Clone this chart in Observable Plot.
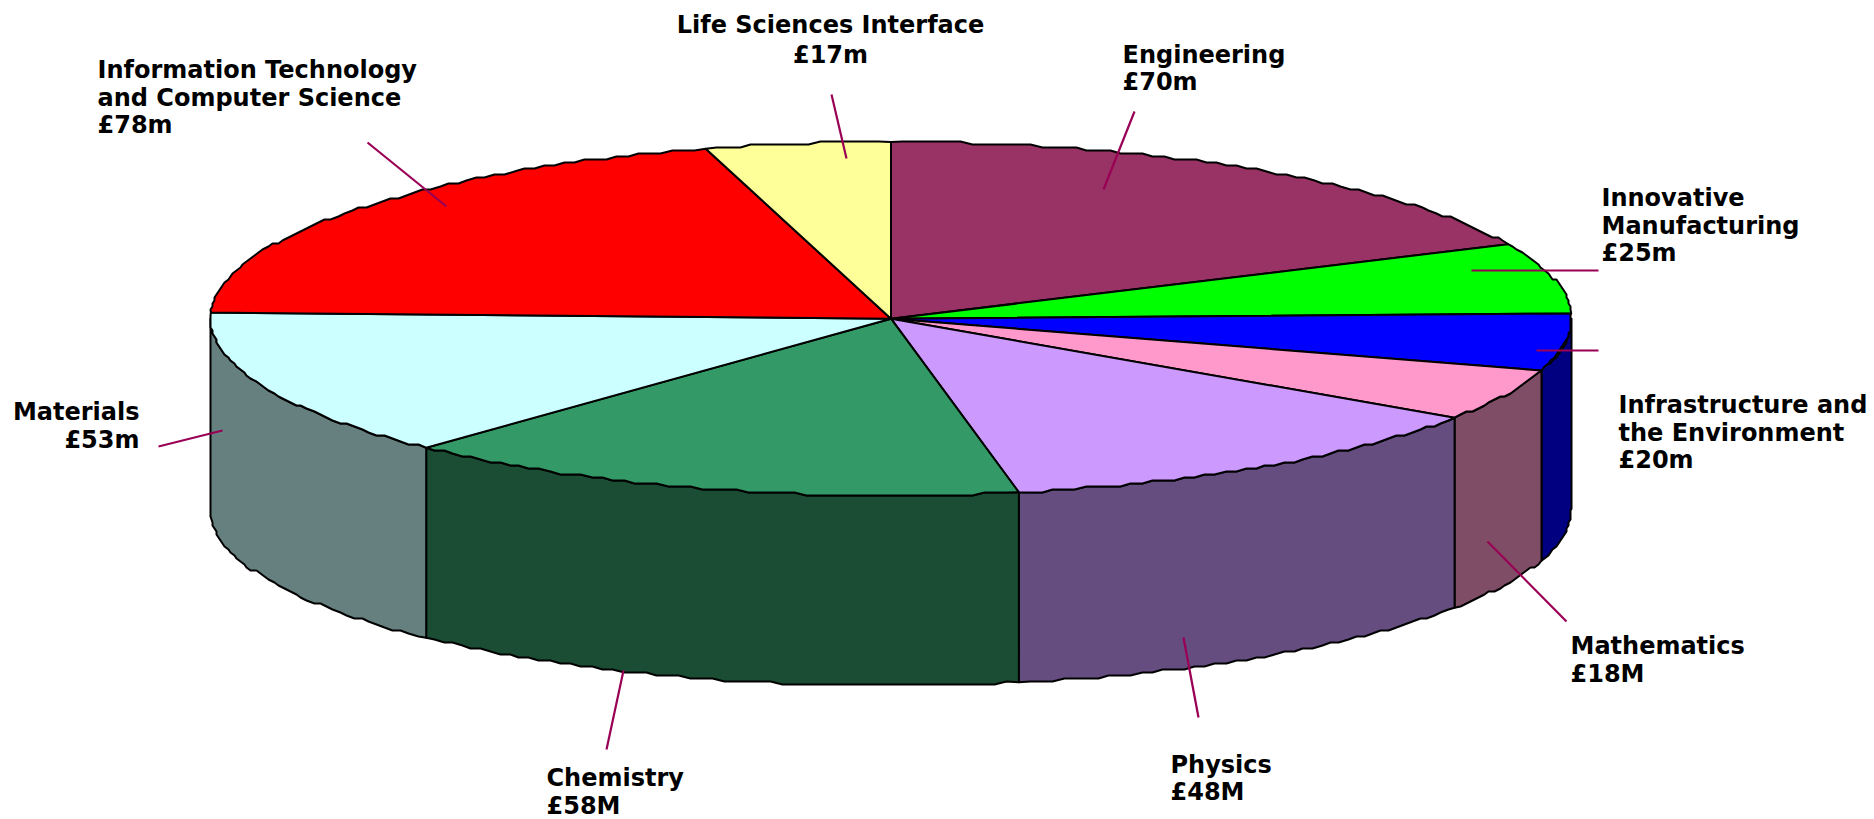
<!DOCTYPE html>
<html><head><meta charset="utf-8">
<style>html,body{margin:0;padding:0;background:#fff}svg{display:block}</style>
<script src="https://cdn.jsdelivr.net/npm/d3@7"></script>
<script src="https://cdn.jsdelivr.net/npm/@observablehq/plot@0.6"></script>
</head><body><div id="chart"></div>
<script>
// Data, clockwise from twelve o'clock
const names = ["Engineering","Innovative Manufacturing","Infrastructure and the Environment","Mathematics","Physics","Chemistry","Materials","Information Technology and Computer Science","Life Sciences Interface"];
const values = [70,25,20.2,18.3,48.5,58,52.6,77.7,17];
const labels = ["Engineering\n£70m","Innovative\nManufacturing\n£25m","Infrastructure and\nthe Environment\n£20m","Mathematics\n£18M","Physics\n£48M","Chemistry\n£58M","Materials\n£53m","Information Technology\nand Computer Science\n£78m","Life Sciences Interface\n£17m"];
const topColors = ["#993366","#00ff00","#0000ff","#ff99cc","#cc99ff","#339966","#ccffff","#ff0000","#ffff99"];
const sideColors = ["#4d1a33","#008000","#000080","#804d66","#664d80","#1a4d33","#668080","#800000","#808050"];

// Layout (kept apart from the data)
const W = 1874, H = 819;
const cx = 890.5, cy = 318.2, rx = 680.5, ry = 176.7, depth = 190;
const gridX = 2, gridY = 3;
const labelPos = [[1122,67,"start"],[1601,224.5,"start"],[1618,431.5,"start"],[1570,658.5,"start"],[1170,777,"start"],[546,790.5,"start"],[139,424.5,"end"],[97,96.5,"start"],[830,38,"middle"]];
const leaderPos = [[1134,111,1103,189],[1598,270,1471,270],[1598,350,1536,350],[1566,621,1487,541],[1198,717,1183,637],[606,749,623,670],[158,446,222,430],[367,142,446,206],[831,94,846,158]];

const total = d3.sum(values);
const cumul = d3.cumsum(values);
const ends = Array.from(cumul, v => v / total * 2 * Math.PI);
const starts = ends.map((_, i) => i ? ends[i - 1] : 0);

const snap = (v, g) => Math.round(v / g) * g;
const rim = (a, dy, exact) => {
  const x = cx + rx * Math.sin(a), y = cy - ry * Math.cos(a) + dy;
  return exact ? [x, y] : [snap(x, gridX), snap(y, gridY)];
};
const arc = (a0, a1, dy) => {
  const n = Math.max(2, Math.ceil((a1 - a0) / (Math.PI / 180)));
  const pts = [];
  for (let i = 0; i <= n; i++) pts.push(rim(a0 + (a1 - a0) * i / n, dy, i === 0 || i === n));
  return pts;
};

const topRows = [], sideRows = [];
names.forEach((name, i) => {
  const pts = [[cx, cy], ...arc(starts[i], ends[i], 0), [cx, cy]];
  pts.forEach(([x, y]) => topRows.push({key: name, x, y}));
  const a0 = Math.max(starts[i], Math.PI / 2), a1 = Math.min(ends[i], 3 * Math.PI / 2);
  if (a1 > a0) {
    const upper = arc(a0, a1, 0), lower = arc(a0, a1, depth).reverse();
    [...upper, ...lower, upper[0]].forEach(([x, y]) => sideRows.push({key: name + " side", x, y}));
  }
});

const labelRows = labels.map((text, i) => ({text, x: labelPos[i][0], y: labelPos[i][1], anchor: labelPos[i][2]}));
const leaders = leaderPos.map(([x1, y1, x2, y2]) => ({x1, y1, x2, y2}));
const labelStyles = [["start", 1.146], ["end", 1.146], ["middle", 1.25]];

const plot = Plot.plot({
  width: W, height: H, margin: 0,
  x: {domain: [0, W], range: [0, W], axis: null},
  y: {domain: [0, H], range: [0, H], axis: null},
  color: {domain: [...names, ...names.map(n => n + " side")], range: [...topColors, ...sideColors]},
  style: {background: "#fff"},
  marks: [
    Plot.line(sideRows, {x: "x", y: "y", z: "key", fill: "key", stroke: "#000", strokeWidth: 2, strokeLinejoin: "round"}),
    Plot.line(topRows, {x: "x", y: "y", z: "key", fill: "key", stroke: "#000", strokeWidth: 2, strokeLinejoin: "round"}),
    Plot.link(leaders, {x1: "x1", y1: "y1", x2: "x2", y2: "y2", stroke: "#990055", strokeWidth: 2.2}),
    ...labelStyles.map(([anchor, lh]) =>
      Plot.text(labelRows.filter(d => d.anchor === anchor), {
        x: "x", y: "y", text: "text", textAnchor: anchor, lineAnchor: "middle", lineHeight: lh,
        fontFamily: "DejaVu Sans", fontWeight: "bold", fontSize: 24, fill: "#000"
      }))
  ]
});
document.getElementById("chart").append(plot);
</script></body></html>
